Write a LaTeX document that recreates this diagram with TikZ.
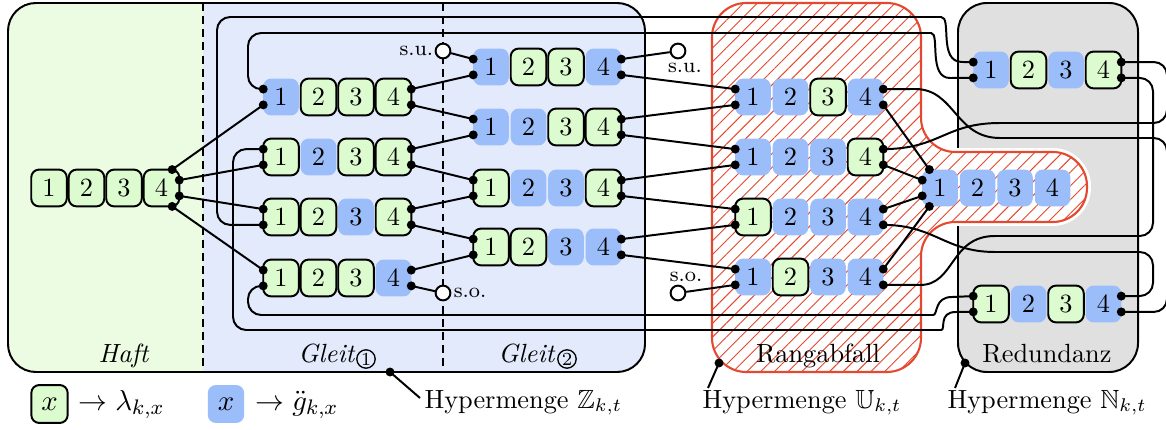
\documentclass[tikz,border=0pt]{standalone}
\usepackage{amssymb}
\usetikzlibrary{patterns.meta}

\definecolor{cellgreen}{RGB}{220,252,208}
\definecolor{cellblue}{RGB}{155,189,250}
\definecolor{haftbg}{RGB}{235,252,227}
\definecolor{gleitbg}{RGB}{227,234,251}
\definecolor{redundbg}{RGB}{224,224,224}
\definecolor{rangred}{RGB}{228,72,46}

\tikzset{
  cell/.style={rectangle, rounded corners=3pt, minimum width=13.5pt,
    minimum height=14pt, inner sep=0pt, outer sep=0pt},
  cellg/.style={cell, draw=black, fill=cellgreen, line width=0.75pt},
  cellb/.style={cell, fill=cellblue},
  wire/.style={line width=0.75pt},
  frame/.style={line width=0.75pt},
  divider/.style={line width=0.6pt, dash pattern=on 3pt off 2pt},
  terminal/.style={circle, draw, fill=white, line width=0.75pt,
    minimum size=5.6pt, inner sep=0pt},
  termtext/.style={font=\footnotesize, inner sep=0.5pt},
  circnum/.style={circle, draw, line width=0.5pt, inner sep=0pt,
    minimum size=7pt, font=\scriptsize},
  caption/.style={anchor=base west, inner sep=0pt},
  legendtext/.style={anchor=base west, inner sep=0pt, font=\fontsize{10.9}{13}\selectfont},
}

% a four-cell register: name, x of the first cell, y, cell kinds (g/b)
\newcommand\register[4]{%
  \foreach \kind [count=\i] in {#4} {
    \node[cell\kind] (#1-\i) at ({#2+37.5*(\i-1)},#3) {\i};
  }
  \coordinate (#1-lu) at ([yshift=3pt]#1-1.west);
  \coordinate (#1-ll) at ([yshift=-3pt]#1-1.west);
  \coordinate (#1-ru) at ([yshift=3pt]#1-4.east);
  \coordinate (#1-rl) at ([yshift=-3pt]#1-4.east);
}

\begin{document}
\begin{tikzpicture}[x=0.38pt, y=-0.38pt]
\useasboundingbox (0,0) rectangle (1166,430);

% hypermenge Z: Haft and Gleit areas
\begin{scope}
  \clip[rounded corners=10.6pt] (8,3) rectangle (645,372);
  \fill[haftbg] (8,3) rectangle (203,372);
  \fill[gleitbg] (203,3) rectangle (645,372);
\end{scope}
\draw[divider] (203,3) -- (203,372);
\draw[divider] (443,3) -- (443,372);
\draw[frame, rounded corners=10.6pt] (8,3) rectangle (645,372);

% hypermenge N: Redundanz
\draw[frame, fill=redundbg, rounded corners=11pt] (958,3) rectangle (1138,372);

% hypermenge U: Rangabfall (hatched, with a bulge into Redundanz)
\path[rounded corners=13pt,
  preaction={draw=white, line width=3pt},
  preaction={fill=white},
  preaction={pattern={Lines[angle=45, distance=3.7pt, line width=0.35pt]}, pattern color=rangred},
  draw=rangred, line width=0.8pt]
  (712,190) -- (712,3) -- (921,3) -- (921,152) -- (1087,152) -- (1087,222)
  -- (921,222) -- (921,372) -- (712,372) -- cycle;

% area labels
\node[anchor=base] (lhaft) at (124,362) {\textit{Haft}};
\node[anchor=base east, inner sep=0pt] (lgleit1) at (356,362) {\textit{Gleit}};
\node[circnum] (lgleit1n) at (366,359) {1};
\node[anchor=base east, inner sep=0pt] (lgleit2) at (556,362) {\textit{Gleit}};
\node[circnum] (lgleit2n) at (567,359) {2};
\node[anchor=base] (lrang) at (818,362) {Rangabfall};
\node[anchor=base] (lredund) at (1047,362) {Redundanz};

% registers
\register{h}{49}{188}{g,g,g,g}
\register{g1a}{281}{97}{b,g,g,g}
\register{g1b}{281}{157}{g,b,g,g}
\register{g1c}{281}{217}{g,g,b,g}
\register{g1d}{281}{278}{g,g,g,b}
\register{g2a}{491}{67}{b,g,g,b}
\register{g2b}{491}{127}{b,b,g,g}
\register{g2c}{491}{188}{g,b,b,g}
\register{g2d}{491}{247}{g,g,b,b}
\register{ra}{753}{97}{b,b,g,b}
\register{rb}{753}{157}{b,b,b,g}
\register{rc}{753}{217}{g,b,b,b}
\register{rd}{753}{277}{b,g,b,b}
\register{ce}{940}{188}{b,b,b,b}
\register{na}{991}{70}{b,g,b,g}
\register{nb}{991}{304}{g,b,g,b}

\coordinate (h-r1) at ([xshift=-2.7pt]h-4.north east);
\coordinate (h-r2) at ([yshift=3pt]h-4.east);
\coordinate (h-r3) at ([yshift=-3pt]h-4.east);
\coordinate (h-r4) at ([xshift=-2.7pt]h-4.south east);
\coordinate (ce-l1) at ([xshift=2.7pt]ce-1.north west);
\coordinate (ce-l2) at ([yshift=3pt]ce-1.west);
\coordinate (ce-l3) at ([yshift=-3pt]ce-1.west);
\coordinate (ce-l4) at ([xshift=2.7pt]ce-1.south west);

% open terminals
\node[terminal] (su1) at (443,51) {};
\node[termtext, anchor=east] (su1t) at (435,51) {s.u.};
\node[terminal] (so1) at (443,293) {};
\node[termtext, anchor=west] (so1t) at (452,293) {s.o.};
\node[terminal] (su2) at (678,51) {};
\node[termtext] (su2t) at (685,68) {s.u.};
\node[terminal] (so2) at (678,293) {};
\node[termtext] (so2t) at (686,277) {s.o.};

% Haft -> Gleit 1
\draw[wire] (h-r1) -- (g1a-ll);
\draw[wire] (h-r2) -- (g1b-ll);
\draw[wire] (h-r3) -- (g1c-lu);
\draw[wire] (h-r4) -- (g1d-lu);

% Gleit 1 -> Gleit 2
\draw[wire] (g1a-ru) -- (g2a-ll);
\draw[wire] (g1a-rl) -- (g2b-lu);
\draw[wire] (g1b-ru) -- (g2b-ll);
\draw[wire] (g1b-rl) -- (g2c-lu);
\draw[wire] (g1c-ru) -- (g2c-ll);
\draw[wire] (g1c-rl) -- (g2d-lu);
\draw[wire] (g1d-ru) -- (g2d-ll);
\draw[wire] (g1d-rl) -- (so1);
\draw[wire] (su1) -- (g2a-lu);

% Gleit 2 -> Rangabfall
\draw[wire] (g2a-ru) -- (su2);
\draw[wire] (g2a-rl) -- (ra-lu);
\draw[wire] (g2b-ru) -- (ra-ll);
\draw[wire] (g2b-rl) -- (rb-lu);
\draw[wire] (g2c-ru) -- (rb-ll);
\draw[wire] (g2c-rl) -- (rc-lu);
\draw[wire] (g2d-ru) -- (rc-ll);
\draw[wire] (g2d-rl) -- (rd-lu);
\draw[wire] (so2) -- (rd-ll);

% Rangabfall -> fully degraded register
\draw[wire] (ra-rl) -- (ce-l1);
\draw[wire] (rb-rl) -- (ce-l2);
\draw[wire] (rc-ru) -- (ce-l3);
\draw[wire] (rd-ru) -- (ce-l4);

% Gleit 1 -> Redundanz (long returns)
\draw[wire] (g1a-lu) [rounded corners=5pt] -| (248,33) -- (918,33) [sharp corners]
  .. controls (940,33) and (928,78) .. (950,78) -- (na-ll);
\draw[wire] (g1c-ll) [rounded corners=5pt] -| (217,17) -- (928,17) [sharp corners]
  .. controls (952,17) and (938,62) .. (962,62) -- (na-lu);
\draw[wire] (g1b-lu) [rounded corners=5pt] -| (233,330) -- (928,330) [sharp corners]
  .. controls (946,330) and (938,312) .. (956,312) -- (nb-ll);
\draw[wire] (g1d-ll) [rounded corners=5pt] -| (248,315) -- (920,315) [sharp corners]
  .. controls (938,315) and (934,297) .. (952,297) -- (nb-lu);

% Rangabfall -> Redundanz
\draw[wire] (rb-ru) .. controls (940,149) and (945,123) .. (1000,123) -- (1100,123)
  [rounded corners=5pt] -- (1167,123) -- (1167,62) -- (na-ru);
\draw[wire] (ra-ru) -- (915,89) .. controls (955,89) and (955,138) .. (1000,138) -- (1100,138)
  [rounded corners=5pt] -- (1167,138) -- (1167,312) -- (nb-rl);
\draw[wire] (rd-rl) -- (920,285) .. controls (955,285) and (950,236) .. (995,236) -- (1100,236)
  [rounded corners=5pt] -- (1153,236) -- (1153,78) -- (na-rl);
\draw[wire] (rc-rl) .. controls (935,225) and (945,252) .. (995,252) -- (1100,252)
  [rounded corners=5pt] -- (1153,252) -- (1153,296) -- (nb-ru);

% connection dots
\foreach \r in {g1a,g1b,g1c,g1d,g2a,g2b,g2c,g2d,ra,rb,rc,rd,na,nb} {
  \foreach \p in {lu,ll,ru,rl} \fill (\r-\p) circle (1.7pt);
}
\foreach \p in {h-r1,h-r2,h-r3,h-r4,ce-l1,ce-l2,ce-l3,ce-l4} \fill (\p) circle (1.7pt);

% hypermenge labels
\coordinate (zpin) at (390,372);
\coordinate (zpinend) at (420,398);
\coordinate (upin) at (719,363);
\coordinate (upinend) at (708,388);
\coordinate (npin) at (965,363);
\coordinate (npinend) at (955,388);
\node[caption] (hz) at (424,408) {Hypermenge $\mathbb{Z}_{k,t}$};
\node[caption] (hu) at (702,408) {Hypermenge $\mathbb{U}_{k,t}$};
\node[caption] (hn) at (947,408) {Hypermenge $\mathbb{N}_{k,t}$};
\draw[wire] (zpin) -- (zpinend);
\draw[wire] (upin) -- (upinend);
\draw[wire] (npin) -- (npinend);
\fill (zpin) circle (1.7pt);
\fill (upin) circle (1.7pt);
\fill (npin) circle (1.7pt);

% legend
\node[cellg, minimum width=13.8pt, minimum height=14.4pt, font=\fontsize{10.9}{13}\selectfont] (leggreen) at (49.5,404) {$x$};
\node[legendtext] (leggreent) at (78,410) {$\rightarrow \lambda_{k,x}$};
\node[cellb, minimum width=13.8pt, minimum height=14.4pt, font=\fontsize{10.9}{13}\selectfont] (legblue) at (226,404) {$x$};
\node[legendtext] (legbluet) at (255,410) {$\rightarrow \ddot{g}_{k,x}$};
\end{tikzpicture}
\end{document}
